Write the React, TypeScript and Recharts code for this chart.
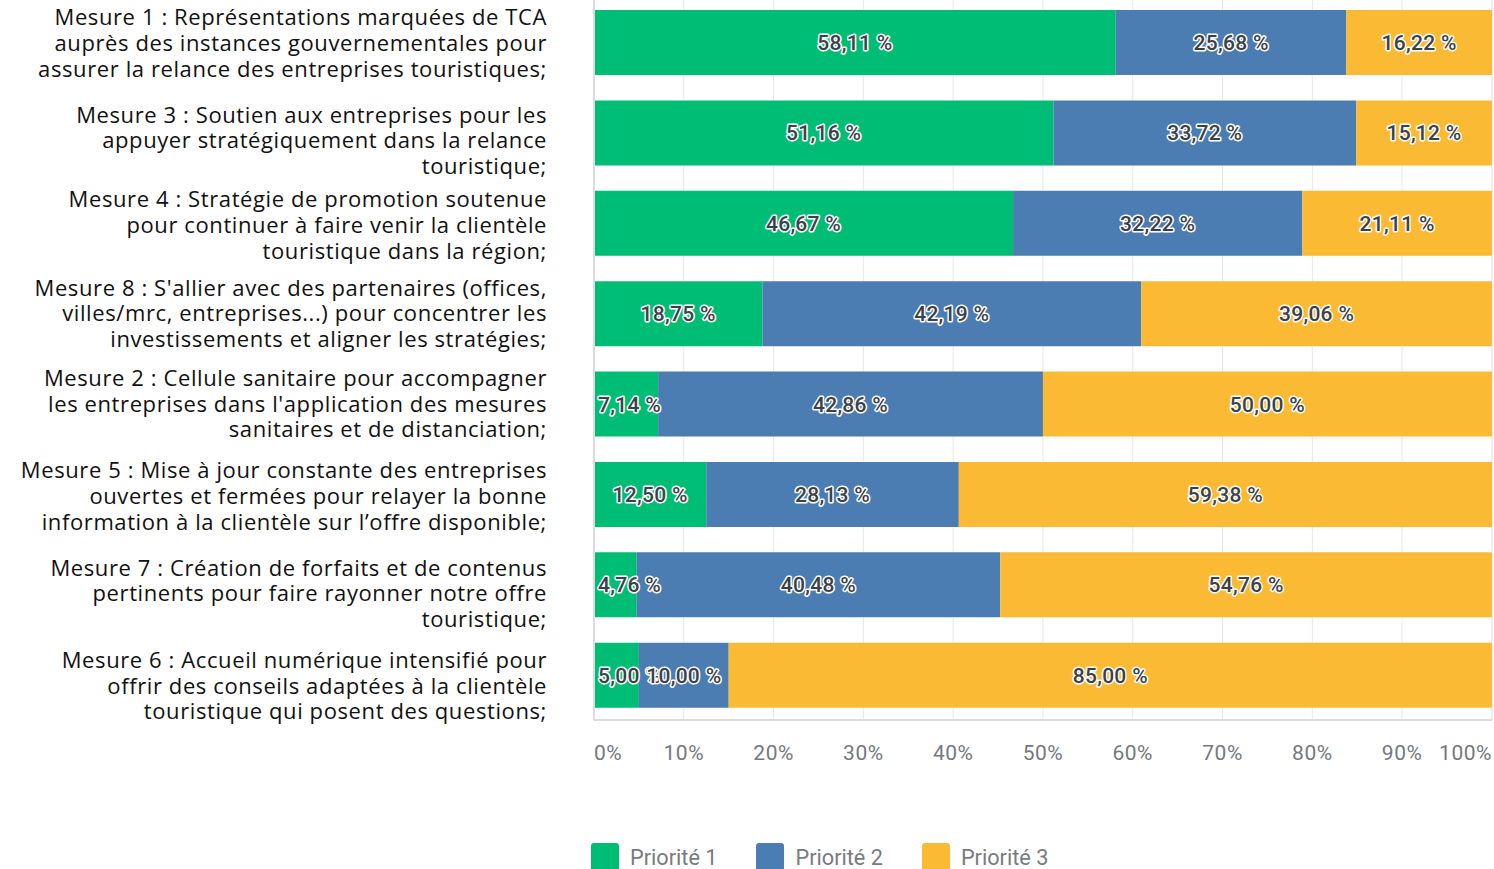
import React from "react";
import { BarChart, Bar, XAxis, YAxis, CartesianGrid, LabelList, Legend } from "recharts";

const measures = [
  "Mesure 1 : Représentations marquées de TCA\nauprès des instances gouvernementales pour\nassurer la relance des entreprises touristiques;",
  "Mesure 3 : Soutien aux entreprises pour les\nappuyer stratégiquement dans la relance\ntouristique;",
  "Mesure 4 : Stratégie de promotion soutenue\npour continuer à faire venir la clientèle\ntouristique dans la région;",
  "Mesure 8 : S'allier avec des partenaires (offices,\nvilles/mrc, entreprises...) pour concentrer les\ninvestissements et aligner les stratégies;",
  "Mesure 2 : Cellule sanitaire pour accompagner\nles entreprises dans l'application des mesures\nsanitaires et de distanciation;",
  "Mesure 5 : Mise à jour constante des entreprises\nouvertes et fermées pour relayer la bonne\ninformation à la clientèle sur l’offre disponible;",
  "Mesure 7 : Création de forfaits et de contenus\npertinents pour faire rayonner notre offre\ntouristique;",
  "Mesure 6 : Accueil numérique intensifié pour\noffrir des conseils adaptées à la clientèle\ntouristique qui posent des questions;",
];
const priority1 = [58.11, 51.16, 46.67, 18.75, 7.14, 12.5, 4.76, 5.0];
const priority2 = [25.68, 33.72, 32.22, 42.19, 42.86, 28.13, 40.48, 10.0];
const priority3 = [16.22, 15.12, 21.11, 39.06, 50.0, 59.38, 54.76, 85.0];
const xTicks = [0, 10, 20, 30, 40, 50, 60, 70, 80, 90, 100];
const seriesNames = ["Priorité 1", "Priorité 2", "Priorité 3"];
const seriesColors = ["#00bd75", "#4b7db2", "#fbba33"];
// small vertical nudges of the left labels, as in the original layout
const labelShift = [1, 8, 2, 0, 0, 2, 9, 11];

const data = measures.map((m, i) => ({
  name: m,
  p1: priority1[i],
  p2: priority2[i],
  p3: priority3[i],
}));

const PLOT_LEFT = 594;
const LABEL_FONT = "'Open Sans', sans-serif";

const fmt = (v: number) => v.toFixed(2).replace(".", ",") + " %";

function BarValue(props: any) {
  const { x, y, width, height, value } = props;
  const text = fmt(Number(value));
  const est = text.length * 11.5;
  let cx = Number(x) + Number(width) / 2;
  let anchor: "middle" | "start" = "middle";
  if (cx - est / 2 < PLOT_LEFT + 4) {
    cx = PLOT_LEFT + 4;
    anchor = "start";
  }
  return (
    <text x={cx} y={Number(y) + Number(height) / 2} dy="0.36em" textAnchor={anchor}
      fontFamily="Roboto, sans-serif" fontSize={21} fontWeight={500} fill="#3b4148"
      stroke="#ffffff" strokeWidth={3} strokeLinejoin="round" paintOrder="stroke"
      letterSpacing={0.3}>
      {text}
    </text>
  );
}

function MeasureTick(props: any) {
  const { y, payload } = props;
  const lines = String(payload.value).split("\n");
  const lh = 25.7;
  const shift = labelShift[payload.index] ?? 0;
  const start = -((lines.length - 1) * lh) / 2 + shift;
  return (
    <text textAnchor="end" fontFamily={LABEL_FONT} fontSize={22} letterSpacing={0.6} fill="#111111">
      {lines.map((l, i) => (
        <tspan key={i} x={547} y={y + start + i * lh} dy="0.36em">{l}</tspan>
      ))}
    </text>
  );
}

function PercentTick(props: any) {
  const { x, y, payload } = props;
  const v = payload.value;
  const anchor = v === 0 ? "start" : v === 100 ? "end" : "middle";
  return (
    <text x={x} y={y + 11} dy="1em" textAnchor={anchor} fontFamily="Roboto, sans-serif"
      fontSize={21} fill="#74787d" letterSpacing={0.5}>
      {v}%
    </text>
  );
}

function PriorityLegend() {
  return (
    <div style={{ display: "flex", alignItems: "center" }}>
      {seriesNames.map((n, i) => (
        <div key={n} style={{ display: "flex", alignItems: "center", marginRight: 39 }}>
          <span style={{ width: 28, height: 28, background: seriesColors[i], borderRadius: 3, marginRight: 11, display: "inline-block" }} />
          <span style={{ fontFamily: "Roboto, sans-serif", fontSize: 21.7, color: "#777b80" }}>{n}</span>
        </div>
      ))}
    </div>
  );
}

export default function App() {
  return (
    <div style={{ position: "absolute", left: 0, top: 0, width: 1494, height: 869, overflow: "hidden", background: "#fff" }}>
      <div style={{ position: "absolute", left: 0, top: -3 }}>
        <BarChart width={1494} height={900} data={data} layout="vertical"
          margin={{ top: 0, right: 2, left: 0, bottom: 117 }} barSize={65}>
          <CartesianGrid horizontal={false} stroke="#e8e8e8" />
          <XAxis type="number" domain={[0, 100]} ticks={xTicks} interval={0}
            tick={<PercentTick />} tickLine={false} height={60}
            axisLine={{ stroke: "#dcdcdc", strokeWidth: 2 }} />
          <YAxis type="category" dataKey="name" width={594} tick={<MeasureTick />}
            tickLine={false} interval={0} axisLine={{ stroke: "#dcdcdc", strokeWidth: 2 }} />
          <Legend layout="horizontal" verticalAlign="middle" align="center"
            content={<PriorityLegend />}
            wrapperStyle={{ top: 846, left: 591, width: "auto" }} />
          <Bar dataKey="p1" stackId="a" fill={seriesColors[0]} isAnimationActive={false}>
            <LabelList dataKey="p1" content={<BarValue />} />
          </Bar>
          <Bar dataKey="p2" stackId="a" fill={seriesColors[1]} isAnimationActive={false}>
            <LabelList dataKey="p2" content={<BarValue />} />
          </Bar>
          <Bar dataKey="p3" stackId="a" fill={seriesColors[2]} isAnimationActive={false}>
            <LabelList dataKey="p3" content={<BarValue />} />
          </Bar>
        </BarChart>
      </div>
    </div>
  );
}
